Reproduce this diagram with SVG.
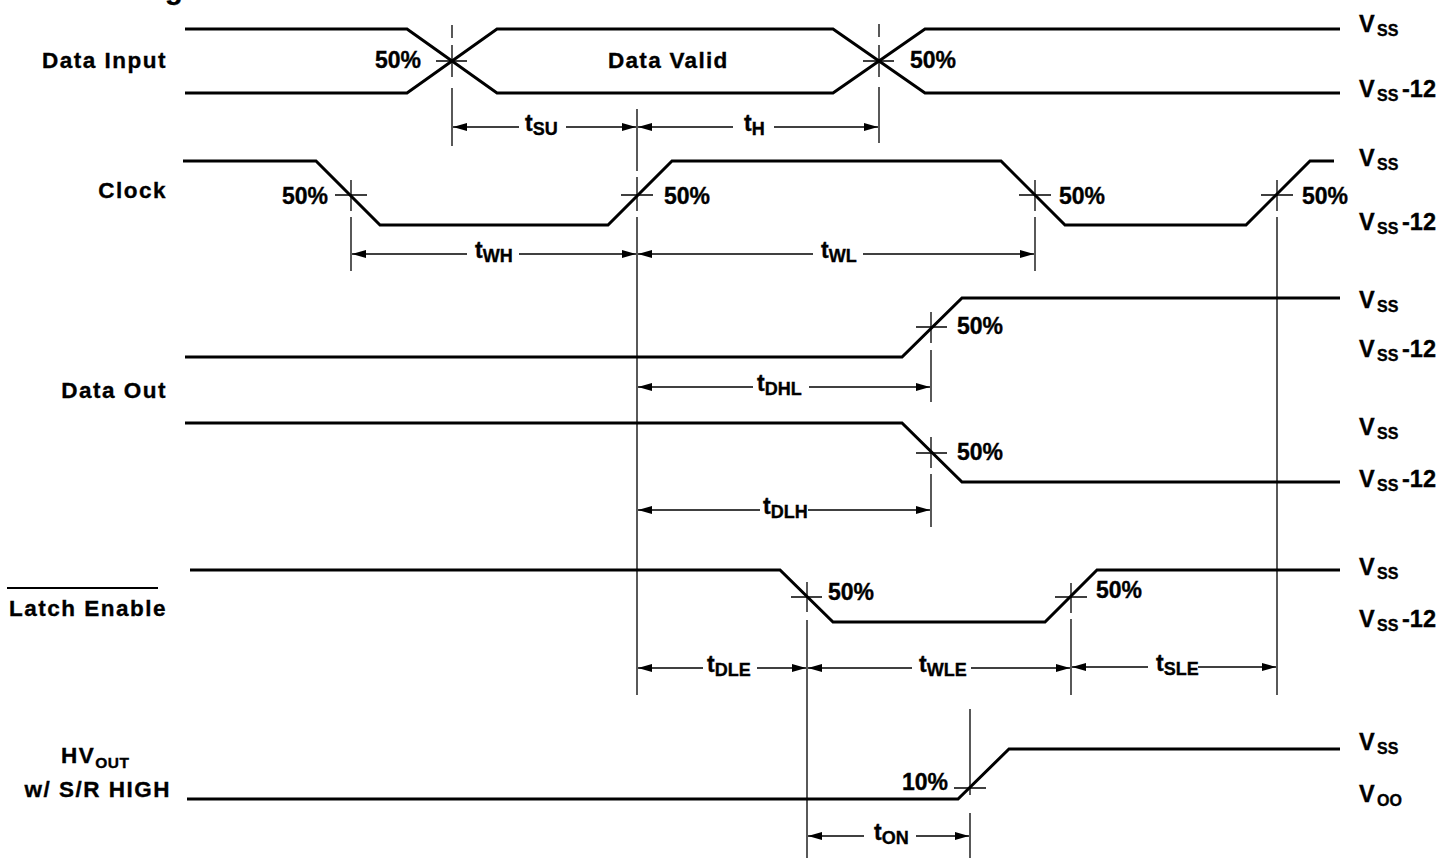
<svg xmlns="http://www.w3.org/2000/svg" width="1439" height="859" viewBox="0 0 1439 859">
<style>
.wave{fill:none;stroke:#000;stroke-width:3;stroke-linejoin:miter}
.thin{fill:none;stroke:#000;stroke-width:1.3}
.dim{fill:none;stroke:#000;stroke-width:1.3;marker-end:url(#arr)}
text{font-family:"Liberation Sans",Arial,Helvetica,sans-serif;font-weight:bold;fill:#000;stroke:#000;stroke-width:0.35px}
.lbl{font-size:22.5px;letter-spacing:1.5px}
.pct{font-size:23px}
.rv{font-size:23.5px}
.rs{font-size:16px}
.tm{font-size:23px}
.ts{font-size:18px}
</style>
<defs>
<marker id="arr" markerUnits="userSpaceOnUse" markerWidth="15" markerHeight="8" refX="14" refY="4" orient="auto">
<path d="M0,0 L14,4 L0,8 Z" fill="#000"/>
</marker>
</defs>
<rect width="1439" height="859" fill="#fff"/>

<g id="title">
<text x="165" y="-1" style="font-size:29px">g</text>
</g>

<g id="left-labels">
<text class="lbl" x="167" y="68" text-anchor="end">Data Input</text>
<text class="lbl" x="167" y="198" text-anchor="end">Clock</text>
<text class="lbl" x="167" y="398" text-anchor="end">Data Out</text>
<text class="lbl" x="167" y="616" text-anchor="end">Latch Enable</text>
<line x1="7" y1="588" x2="158" y2="588" stroke="#000" stroke-width="2"/>
<text class="lbl" x="61" y="763">HV<tspan style="font-size:15.5px;letter-spacing:0.5px" dy="5">OUT</tspan></text>
<text class="lbl" x="171" y="797" text-anchor="end">w/ S/R HIGH</text>
</g>

<g id="data-input">
<path class="wave" d="M185,29 H407 L497,93 H833 L925,29 H1340"/>
<path class="wave" d="M185,93 H407 L497,29 H833 L925,93 H1340"/>
<text class="lbl" x="608" y="68" style="letter-spacing:1.3px">Data Valid</text>
<text class="pct" x="375" y="68">50%</text>
<text class="pct" x="910" y="68">50%</text>
</g>

<g id="clock">
<path class="wave" d="M183,161 H316 L380,225 H608 L672,161 H1001 L1065,225 H1246 L1310,161 H1334"/>
<text class="pct" x="282" y="204">50%</text>
<text class="pct" x="664" y="204">50%</text>
<text class="pct" x="1059" y="204">50%</text>
<text class="pct" x="1302" y="204">50%</text>
</g>

<g id="data-out">
<path class="wave" d="M185,357 H902 L962,298 H1340"/>
<path class="wave" d="M185,423 H902 L962,482 H1340"/>
<text class="pct" x="957" y="334">50%</text>
<text class="pct" x="957" y="460">50%</text>
</g>

<g id="latch-enable">
<path class="wave" d="M190,570 H780 L833,622 H1045 L1097,570 H1340"/>
<text class="pct" x="828" y="600">50%</text>
<text class="pct" x="1096" y="598">50%</text>
</g>

<g id="hv-out">
<path class="wave" d="M187,799 H958 L1009,749 H1340"/>
<text class="pct" x="902" y="790">10%</text>
</g>

<g id="levels">
<text class="rv" x="1359" y="32">V<tspan class="rs" x="1377" dy="4">SS</tspan></text>
<text class="rv" x="1359" y="97">V<tspan class="rs" x="1377" dy="4">SS</tspan><tspan x="1402" dy="-4">-12</tspan></text>
<text class="rv" x="1359" y="166">V<tspan class="rs" x="1377" dy="4">SS</tspan></text>
<text class="rv" x="1359" y="230">V<tspan class="rs" x="1377" dy="4">SS</tspan><tspan x="1402" dy="-4">-12</tspan></text>
<text class="rv" x="1359" y="308">V<tspan class="rs" x="1377" dy="4">SS</tspan></text>
<text class="rv" x="1359" y="357">V<tspan class="rs" x="1377" dy="4">SS</tspan><tspan x="1402" dy="-4">-12</tspan></text>
<text class="rv" x="1359" y="435">V<tspan class="rs" x="1377" dy="4">SS</tspan></text>
<text class="rv" x="1359" y="487">V<tspan class="rs" x="1377" dy="4">SS</tspan><tspan x="1402" dy="-4">-12</tspan></text>
<text class="rv" x="1359" y="575">V<tspan class="rs" x="1377" dy="4">SS</tspan></text>
<text class="rv" x="1359" y="627">V<tspan class="rs" x="1377" dy="4">SS</tspan><tspan x="1402" dy="-4">-12</tspan></text>
<text class="rv" x="1359" y="750">V<tspan class="rs" x="1377" dy="4">SS</tspan></text>
<text class="rv" x="1359" y="802">V<tspan class="rs" x="1377" dy="4">OO</tspan></text>
</g>

<g id="connectors">
<path class="thin" d="M436,61 H467 M452,25 V38 M452,45 V77 M452,88 V146"/>
<path class="thin" d="M863,61 H894 M879,24 V37 M879,45 V77 M879,87 V143"/>
<path class="thin" d="M335,195 H367 M351,180 V211 M351,217 V271"/>
<path class="thin" d="M621,195 H653 M637,109 V171 M637,177 V211 M637,217 V695"/>
<path class="thin" d="M1019,195 H1051 M1035,180 V211 M1035,217 V271"/>
<path class="thin" d="M1261,195 H1293 M1277,180 V211 M1277,217 V695"/>
<path class="thin" d="M916,327 H947 M931,312 V343 M931,350 V402"/>
<path class="thin" d="M916,453 H947 M931,437 V468 M931,474 V527"/>
<path class="thin" d="M791,597 H822 M807,582 V612 M807,620 V858"/>
<path class="thin" d="M1055,597 H1087 M1071,583 V613 M1071,619 V695"/>
<path class="thin" d="M954,788 H986 M970,709 V795 M970,813 V858"/>

<g id="dim-tsu">
<line class="dim" x1="519" y1="127" x2="453" y2="127"/>
<line class="dim" x1="566" y1="127" x2="636" y2="127"/>
<text class="tm" x="525" y="131">t<tspan class="ts" dy="4">SU</tspan></text>
</g>
<g id="dim-th">
<line class="dim" x1="733" y1="127" x2="638" y2="127"/>
<line class="dim" x1="774" y1="127" x2="878" y2="127"/>
<text class="tm" x="744" y="131">t<tspan class="ts" dy="4">H</tspan></text>
</g>
<g id="dim-twh">
<line class="dim" x1="467" y1="254" x2="352" y2="254"/>
<line class="dim" x1="519" y1="254" x2="636" y2="254"/>
<text class="tm" x="475" y="258">t<tspan class="ts" dy="4">WH</tspan></text>
</g>
<g id="dim-twl">
<line class="dim" x1="813" y1="254" x2="638" y2="254"/>
<line class="dim" x1="863" y1="254" x2="1034" y2="254"/>
<text class="tm" x="821" y="258">t<tspan class="ts" dy="4">WL</tspan></text>
</g>
<g id="dim-tdhl">
<line class="dim" x1="753" y1="387" x2="638" y2="387"/>
<line class="dim" x1="809" y1="387" x2="930" y2="387"/>
<text class="tm" x="757" y="391">t<tspan class="ts" dy="4">DHL</tspan></text>
</g>
<g id="dim-tdlh">
<line class="dim" x1="760" y1="510" x2="638" y2="510"/>
<line class="dim" x1="808" y1="510" x2="930" y2="510"/>
<text class="tm" x="763" y="514">t<tspan class="ts" dy="4">DLH</tspan></text>
</g>
<g id="dim-tdle">
<line class="dim" x1="703" y1="668" x2="638" y2="668"/>
<line class="dim" x1="757" y1="668" x2="806" y2="668"/>
<text class="tm" x="707" y="672">t<tspan class="ts" dy="4">DLE</tspan></text>
</g>
<g id="dim-twle">
<line class="dim" x1="912" y1="668" x2="808" y2="668"/>
<line class="dim" x1="971" y1="668" x2="1070" y2="668"/>
<text class="tm" x="919" y="672">t<tspan class="ts" dy="4">WLE</tspan></text>
</g>
<g id="dim-tsle">
<line class="dim" x1="1148" y1="667" x2="1072" y2="667"/>
<line class="dim" x1="1198" y1="667" x2="1276" y2="667"/>
<text class="tm" x="1156" y="671">t<tspan class="ts" dy="4">SLE</tspan></text>
</g>
<g id="dim-ton">
<line class="dim" x1="864" y1="836" x2="808" y2="836"/>
<line class="dim" x1="916" y1="836" x2="969" y2="836"/>
<text class="tm" x="874" y="840">t<tspan class="ts" dy="4">ON</tspan></text>
</g>
</g>
</svg>
